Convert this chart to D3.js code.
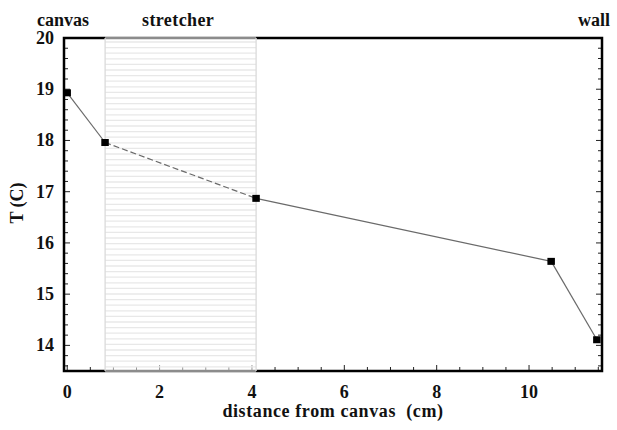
<!DOCTYPE html>
<html><head><meta charset="utf-8">
<script src="https://cdn.jsdelivr.net/npm/d3@7"></script>
<style>body{margin:0;background:#fff}svg{display:block}</style>
</head><body>
<script>
const distances = [0, 0.82, 4.09, 10.48, 11.47];
const temps = [18.93, 17.96, 16.87, 15.64, 14.11];
const stretcher = [0.82, 4.09];
const xTicks = [0, 2, 4, 6, 8, 10];
const yTicks = [14, 15, 16, 17, 18, 19, 20];
const regionLabels = ["canvas", "stretcher", "wall"];

const FONT = "Liberation Serif, Tinos, Noto Serif, DejaVu Serif, FreeSerif, serif";
const W = 617, H = 430;
const svg = d3.select("body").append("svg").attr("width", W).attr("height", H)
  .style("font-family", FONT).style("font-weight", "bold");
const x = d3.scaleLinear().domain([-0.07, 11.58]).range([64, 602]);
const y = d3.scaleLinear().domain([13.5, 20]).range([371, 38]);
const L = 64, R = 602, T = 38, B = 371;

const xMinor = d3.range(0, 11.51, 0.5);
const yMinor = d3.range(13.6, 20.0, 0.2);
const g = svg.append("g");
g.selectAll(".xm").data(xMinor).join("line")
  .attr("x1", d => x(d)).attr("x2", d => x(d))
  .attr("y1", B).attr("y2", d => B - (Math.abs(d % 2) < 1e-6 ? 6 : 4))
  .attr("stroke", "#222").attr("stroke-width", 1);
g.selectAll(".yml").data(yMinor).join("line")
  .attr("x1", L).attr("x2", d => L + (Math.abs(d - Math.round(d)) < 1e-6 ? 6 : 4))
  .attr("y1", d => y(d)).attr("y2", d => y(d))
  .attr("stroke", "#222").attr("stroke-width", 1);
g.selectAll(".ymr").data(yMinor).join("line")
  .attr("x1", R).attr("x2", d => R - (Math.abs(d - Math.round(d)) < 1e-6 ? 6 : 4))
  .attr("y1", d => y(d)).attr("y2", d => y(d))
  .attr("stroke", "#222").attr("stroke-width", 1);

svg.append("rect").attr("x", L).attr("y", T).attr("width", R - L).attr("height", B - T)
  .attr("fill", "none").attr("stroke", "#000").attr("stroke-width", 2.5);

const sx0 = x(stretcher[0]), sx1 = x(stretcher[1]);
const sg = svg.append("g");
sg.append("rect").attr("x", sx0).attr("y", T - 1.5).attr("width", sx1 - sx0).attr("height", B - T + 3)
  .attr("fill", "#fff").attr("fill-opacity", 0.55);
const hl = d3.range(T + 4, B, 5.6);
sg.selectAll("line.h").data(hl).join("line")
  .attr("x1", sx0).attr("x2", sx1).attr("y1", d => d).attr("y2", d => d)
  .attr("stroke", "#e8e8e8").attr("stroke-width", 1.3);
sg.selectAll("line.v").data(stretcher).join("line")
  .attr("x1", d => x(d)).attr("x2", d => x(d)).attr("y1", T).attr("y2", B)
  .attr("stroke", "#dadada").attr("stroke-width", 1.3);

const pts = distances.map((d, i) => [d, temps[i]]);
for (let i = 0; i < pts.length - 1; i++) {
  const inside = pts[i][0] >= stretcher[0] && pts[i + 1][0] <= stretcher[1];
  svg.append("line")
    .attr("x1", x(pts[i][0])).attr("y1", y(pts[i][1]))
    .attr("x2", x(pts[i + 1][0])).attr("y2", y(pts[i + 1][1]))
    .attr("stroke", "#6a6a6a").attr("stroke-width", 1.2)
    .attr("stroke-dasharray", inside ? "6,3" : null);
}
svg.selectAll("rect.pt").data(pts).join("rect")
  .attr("x", d => x(d[0]) - 3.8).attr("y", d => y(d[1]) - 3.5)
  .attr("width", 7.5).attr("height", 7)
  .attr("fill", "#000");

const FS = 18;
svg.selectAll("text.xt").data(xTicks).join("text")
  .attr("x", d => x(d)).attr("y", 398).attr("text-anchor", "middle")
  .attr("font-size", FS).attr("fill", "#111").text(d => d);
svg.selectAll("text.yt").data(yTicks).join("text")
  .attr("x", 54).attr("y", d => y(d) + 6).attr("text-anchor", "end")
  .attr("font-size", FS).attr("fill", "#111").text(d => d);

svg.append("text").attr("x", 333).attr("y", 417).attr("text-anchor", "middle")
  .attr("font-size", FS).attr("fill", "#111").style("white-space", "pre")
  .attr("letter-spacing", 0.6).text("distance from canvas  (cm)");
svg.append("text").attr("transform", "translate(23,203) rotate(-90)").attr("text-anchor", "middle")
  .attr("font-size", FS).attr("fill", "#111").style("white-space", "pre").text("T (C)");

svg.append("text").attr("x", 37).attr("y", 26).attr("font-size", FS).attr("fill", "#111").text(regionLabels[0]);
svg.append("text").attr("x", 142).attr("y", 26).attr("font-size", FS).attr("fill", "#111")
  .attr("letter-spacing", 0.4).text(regionLabels[1]);
svg.append("text").attr("x", 578).attr("y", 26).attr("font-size", FS).attr("fill", "#111").text(regionLabels[2]);
</script>
</body></html>
